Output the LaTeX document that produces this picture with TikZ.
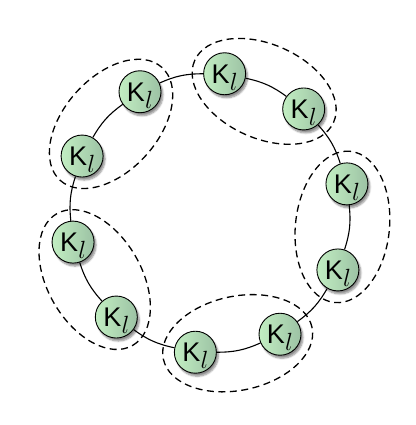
\documentclass[tikz,border=0pt]{standalone}
\usepackage{fontspec}
\setsansfont{Liberation Sans}
\usetikzlibrary{shapes.geometric,shadows.blur,calc,backgrounds}
\definecolor{kleft}{RGB}{194,238,194}
\definecolor{kright}{RGB}{156,194,164}
\newcommand\klabel{K\kern0.2pt\raisebox{-7pt}[0pt][0pt]{\fontsize{23}{23}\selectfont$l$}}
\begin{document}
\begin{tikzpicture}[x=1pt,y=1pt,
  knode/.style={circle, draw=black, line width=0.9pt, minimum size=42pt, inner sep=0pt,
    left color=kleft, right color=kright,
    blur shadow={shadow xshift=2pt, shadow yshift=-3pt, shadow blur steps=6, shadow opacity=45},
    font=\sffamily\fontsize{27}{27}\selectfont},
  link/.style={line width=1.1pt, bend right=12},
  group/.style={ellipse, draw=black, dash pattern=on 7pt off 4.5pt, line width=1.3pt,
    minimum width=152pt, minimum height=94pt, inner sep=0pt}
]
\useasboundingbox (0,0) rectangle (415,425);
\coordinate (c) at (210,212);
\foreach \i in {0,...,9} {
  \node[knode] (n\i) at ($(c)+({12+36*\i}:140)$) {\klabel};
}
\begin{scope}[on background layer]
\foreach \i in {0,...,9} {
  \pgfmathtruncatemacro\j{mod(\i+1,10)}
  \draw[link] (n\i) to (n\j);
}
\end{scope}
\node[group, rotate=156] (g1) at ($(n1)!0.5!(n2)$) {};
\node[group, rotate=228] (g2) at ($(n3)!0.5!(n4)$) {};
\node[group, rotate=300] (g3) at ($(n5)!0.5!(n6)$) {};
\node[group, rotate=372] (g4) at ($(n7)!0.5!(n8)$) {};
\node[group, rotate=444] (g5) at ($(n9)!0.5!(n0)$) {};
\end{tikzpicture}
\end{document}
